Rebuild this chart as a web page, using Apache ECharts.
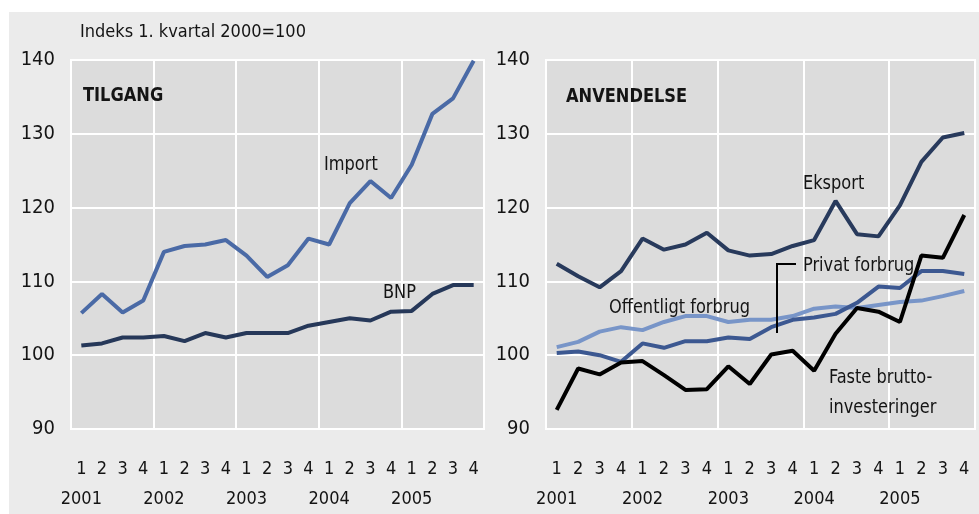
<!DOCTYPE html>
<html>
<head>
<meta charset="utf-8">
<script src="https://cdn.jsdelivr.net/npm/echarts@6/dist/echarts.min.js"></script>
<style>
html,body{margin:0;padding:0;background:#fff;}
#c{width:979px;height:514px;}
</style>
</head>
<body>
<div id="c"></div>
<script>
var quarters = ['1','2','3','4','1','2','3','4','1','2','3','4','1','2','3','4','1','2','3','4'];
var years = ['2001','2002','2003','2004','2005'];
var yTicks = [90,100,110,120,130,140];

var importVals = [105.7,108.3,105.8,107.4,114.0,114.8,115.0,115.6,113.5,110.6,112.2,115.8,115.0,120.6,123.6,121.3,125.8,132.7,134.8,139.9];
var bnpVals    = [101.3,101.6,102.4,102.4,102.6,101.9,103.0,102.4,103.0,103.0,103.0,104.0,104.5,105.0,104.7,105.9,106.0,108.3,109.5,109.5];

var eksportVals = [112.4,110.7,109.2,111.4,115.8,114.3,115.0,116.6,114.2,113.5,113.7,114.8,115.6,120.9,116.4,116.1,120.3,126.2,129.5,130.1];
var privatVals  = [100.3,100.5,100.0,99.1,101.6,101.0,101.9,101.9,102.4,102.2,103.8,104.8,105.1,105.6,107.1,109.3,109.1,111.4,111.4,111.0];
var offentligVals = [101.1,101.8,103.2,103.8,103.4,104.5,105.3,105.3,104.5,104.8,104.8,105.3,106.3,106.6,106.4,106.8,107.2,107.4,108.0,108.7];
var fasteVals   = [92.6,98.2,97.4,99.0,99.2,97.3,95.3,95.4,98.5,96.1,100.1,100.6,97.9,102.9,106.4,105.9,104.5,113.5,113.2,119.0];

var FONT = '"DejaVu Sans Condensed","Liberation Sans Narrow","Open Sans",sans-serif';
var TXT = '#141414';

var chart = echarts.init(document.getElementById('c'), null, {renderer:'canvas'});

function xAxisFor(gi){
  return {
    type:'category', gridIndex:gi, data:quarters, boundaryGap:true,
    axisLine:{show:false}, axisTick:{show:false},
    axisLabel:{
      interval:0, margin:25, fontSize:18, lineHeight:30, color:TXT, fontFamily:FONT,
      formatter:function(v,i){ return i%4===0 ? v+'\n'+years[i/4] : v; }
    },
    splitLine:{show:true, interval:function(i){return i%4===0;}, lineStyle:{color:'#ffffff', width:2}}
  };
}
function yAxisFor(gi){
  return {
    type:'value', gridIndex:gi, min:yTicks[0], max:yTicks[yTicks.length-1], interval:10,
    axisLine:{show:false}, axisTick:{show:false},
    axisLabel:{margin:16, fontSize:20, color:TXT, fontFamily:FONT},
    splitLine:{show:true, lineStyle:{color:'#ffffff', width:2}}
  };
}
function line(name, data, color, xi){
  return {
    name:name, type:'line', data:data, xAxisIndex:xi, yAxisIndex:xi,
    symbol:'none', smooth:false, lineStyle:{color:color, width:4},
    itemStyle:{color:color}, z:3
  };
}
function txt(x, y, s, opts){
  var st = {text:s, fill:TXT, fontSize:20, fontFamily:FONT, verticalAlign:'middle', align:'left'};
  var sx = 0.9;
  if (opts) for (var k in opts) { if (k==='sx') sx=opts[k]; else st[k]=opts[k]; }
  return {type:'text', x:x, y:y, scaleX:sx, style:st, z:10};
}

chart.setOption({
  animation:false,
  backgroundColor:'#ffffff',
  grid:[
    {left:71, top:60, width:413, height:377, show:true, backgroundColor:'#dcdcdc', borderColor:'#ffffff', borderWidth:2},
    {left:546, top:60, width:429, height:377, show:true, backgroundColor:'#dcdcdc', borderColor:'#ffffff', borderWidth:2}
  ],
  xAxis:[xAxisFor(0), xAxisFor(1)],
  yAxis:[yAxisFor(0), yAxisFor(1)],
  series:[
    line('Import', importVals, '#4a6aa6', 0),
    line('BNP', bnpVals, '#263859', 0),
    line('Offentligt forbrug', offentligVals, '#7895c8', 1),
    line('Privat forbrug', privatVals, '#3c5891', 1),
    line('Eksport', eksportVals, '#283a5c', 1),
    line('Faste bruttoinvesteringer', fasteVals, '#000000', 1)
  ],
  graphic:[
    {type:'rect', shape:{x:9, y:12, width:970, height:502}, style:{fill:'#ebebeb'}, z:-10, silent:true},
    txt(80, 32, 'Indeks 1. kvartal 2000=100', {fontSize:18, sx:1}),
    txt(83, 96, 'TILGANG', {fontSize:19, fontWeight:'bold', sx:0.95}),
    txt(566, 97, 'ANVENDELSE', {fontSize:19, fontWeight:'bold', sx:0.95}),
    txt(324, 165, 'Import'),
    txt(383, 293, 'BNP'),
    txt(803, 184, 'Eksport'),
    txt(803, 266, 'Privat forbrug'),
    txt(609, 308, 'Offentligt forbrug'),
    txt(829, 378, 'Faste brutto-'),
    txt(829, 408, 'investeringer'),
    {type:'polyline', shape:{points:[[796,264],[777,264],[777,333]]}, style:{stroke:'#000', lineWidth:2, fill:null}, z:10}
  ]
});
</script>
</body>
</html>
